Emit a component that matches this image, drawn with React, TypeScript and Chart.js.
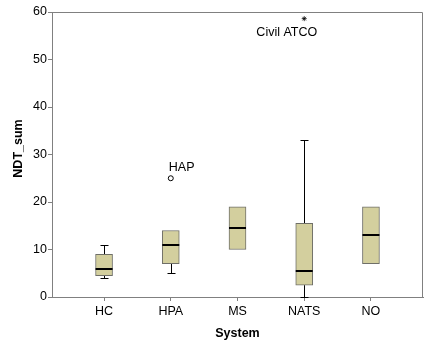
import { useEffect, useRef } from 'react';
import { Chart, registerables } from 'chart.js';

Chart.register(...registerables);

const categories = ['HC', 'HPA', 'MS', 'NATS', 'NO'];
const whiskerLow = [4, 5, 10, 0, 7];
const quartile1 = [4.5, 7, 10, 2.5, 7];
const medians = [6, 11, 14.5, 5.5, 13];
const quartile3 = [9, 14, 19, 15.5, 19];
const whiskerHigh = [11, 14, 19, 33, 19];
const outlierCategory = [1, 3];
const outlierValues = [25, 58.6];
const outlierLabels = ['HAP', 'Civil ATCO'];
const outlierStyles = ['circle', 'star'];
const yTickValues = [0, 10, 20, 30, 40, 50, 60];

// label placement relative to the outlier marker (style, not data)
const labelAlign: CanvasTextAlign[] = ['left', 'right'];
const labelDx = [-2, 13];
const labelDy = [-7, 17];

const FONT = '"Liberation Sans", Arial, sans-serif';
const BOX_FILL = '#d3cf9e';
const BOX_EDGE = '#6f6f68';
const AXIS = '#808080';

const boxPlugin = {
  id: 'boxExtras',
  beforeDatasetsDraw(chart: any) {
    const { ctx, chartArea, scales } = chart;
    const x = scales.x;
    const y = scales.y;
    ctx.save();
    // frame top and right
    ctx.strokeStyle = AXIS;
    ctx.lineWidth = 1;
    ctx.beginPath();
    ctx.moveTo(chartArea.left, Math.round(chartArea.top) + 0.5);
    ctx.lineTo(Math.round(chartArea.right) - 0.5, Math.round(chartArea.top) + 0.5);
    ctx.lineTo(Math.round(chartArea.right) - 0.5, chartArea.bottom);
    ctx.stroke();
    // whiskers
    ctx.strokeStyle = '#000';
    ctx.lineWidth = 1;
    categories.forEach((_, i) => {
      const px = Math.round(x.getPixelForValue(i)) + 0.5;
      const pairs = [
        [quartile3[i], whiskerHigh[i]],
        [quartile1[i], whiskerLow[i]],
      ];
      pairs.forEach(([from, to]) => {
        if (from === to) return;
        const y1 = y.getPixelForValue(from);
        const y2 = Math.round(y.getPixelForValue(to)) + 0.5;
        ctx.beginPath();
        ctx.moveTo(px, y1);
        ctx.lineTo(px, y2);
        ctx.moveTo(px - 4, y2);
        ctx.lineTo(px + 4, y2);
        ctx.stroke();
      });
    });
    ctx.restore();
  },
  afterDatasetsDraw(chart: any) {
    const { ctx, chartArea, scales } = chart;
    const x = scales.x;
    const y = scales.y;
    ctx.save();
    // medians
    ctx.strokeStyle = '#000';
    ctx.lineWidth = 2;
    categories.forEach((_, i) => {
      const px = x.getPixelForValue(i);
      const py = Math.round(y.getPixelForValue(medians[i]));
      ctx.beginPath();
      ctx.moveTo(px - 8.5, py);
      ctx.lineTo(px + 8.5, py);
      ctx.stroke();
    });
    // outlier labels
    ctx.fillStyle = '#000';
    ctx.font = `12.5px ${FONT}`;
    ctx.textBaseline = 'alphabetic';
    outlierLabels.forEach((lab, i) => {
      const px = x.getPixelForValue(outlierCategory[i]);
      const py = y.getPixelForValue(outlierValues[i]);
      ctx.textAlign = labelAlign[i];
      ctx.fillText(lab, px + labelDx[i], py + labelDy[i]);
    });
    // y axis title
    ctx.font = `bold 12.5px ${FONT}`;
    ctx.translate(19, (chartArea.top + chartArea.bottom) / 2 - 6);
    ctx.rotate(-Math.PI / 2);
    ctx.textAlign = 'center';
    ctx.textBaseline = 'middle';
    ctx.fillText('NDT_sum', 0, 0);
    ctx.restore();
  },
};

export default function App() {
  const canvasRef = useRef<HTMLCanvasElement>(null);

  useEffect(() => {
    document.body.style.margin = '0';
    const canvas = canvasRef.current;
    if (!canvas) return;
    const chart = new Chart(canvas, {
      type: 'bar',
      data: {
        datasets: [
          {
            type: 'bar',
            data: categories.map((_, i) => ({ x: i, y: [quartile1[i], quartile3[i]] })) as any,
            backgroundColor: BOX_FILL,
            borderColor: BOX_EDGE,
            borderWidth: 1,
            borderSkipped: false,
            barThickness: 17,
          } as any,
          {
            type: 'scatter',
            data: outlierCategory.map((c, i) => ({ x: c, y: outlierValues[i] })),
            pointStyle: outlierStyles as any,
            pointRadius: [2.5, 2.5],
            backgroundColor: '#ffffff',
            borderColor: '#000000',
            borderWidth: [1, 0.8],
          } as any,
        ],
      },
      options: {
        responsive: false,
        animation: false,
        layout: { autoPadding: false, padding: { top: 12, right: 3, left: 0, bottom: 0 } },
        plugins: {
          legend: { display: false },
          tooltip: { enabled: false },
        },
        scales: {
          x: {
            type: 'linear',
            min: -0.78,
            max: 4.78,
            offset: false,
            grid: { offset: false, drawOnChartArea: false, drawTicks: true, tickLength: 4, color: AXIS },
            border: { color: AXIS },
            afterBuildTicks: (axis: any) => {
              axis.ticks = categories.map((_, i) => ({ value: i }));
            },
            afterFit: (axis: any) => {
              axis.height = 47;
            },
            ticks: {
              color: '#000',
              padding: 3,
              maxRotation: 0,
              font: { family: FONT, size: 12.5 },
              callback: (v: any) => categories[Number(v)] ?? '',
            },
            title: {
              display: true,
              text: 'System',
              color: '#000',
              font: { family: FONT, size: 12.5, weight: 'bold' },
              padding: { top: 0, bottom: 3 },
            },
          },
          y: {
            type: 'linear',
            min: 0,
            max: 60,
            grid: { drawOnChartArea: false, drawTicks: true, tickLength: 4, color: AXIS },
            border: { color: AXIS },
            afterBuildTicks: (axis: any) => {
              axis.ticks = yTickValues.map((v) => ({ value: v }));
            },
            afterFit: (axis: any) => {
              axis.width = 52;
            },
            ticks: {
              color: '#000',
              padding: 1,
              font: { family: FONT, size: 12.5 },
            },
          },
        },
      } as any,
      plugins: [boxPlugin],
    });
    return () => chart.destroy();
  }, []);

  return (
    <div style={{ position: 'relative', width: 426, height: 344, background: '#fff' }}>
      <canvas ref={canvasRef} width={426} height={344} />
    </div>
  );
}
